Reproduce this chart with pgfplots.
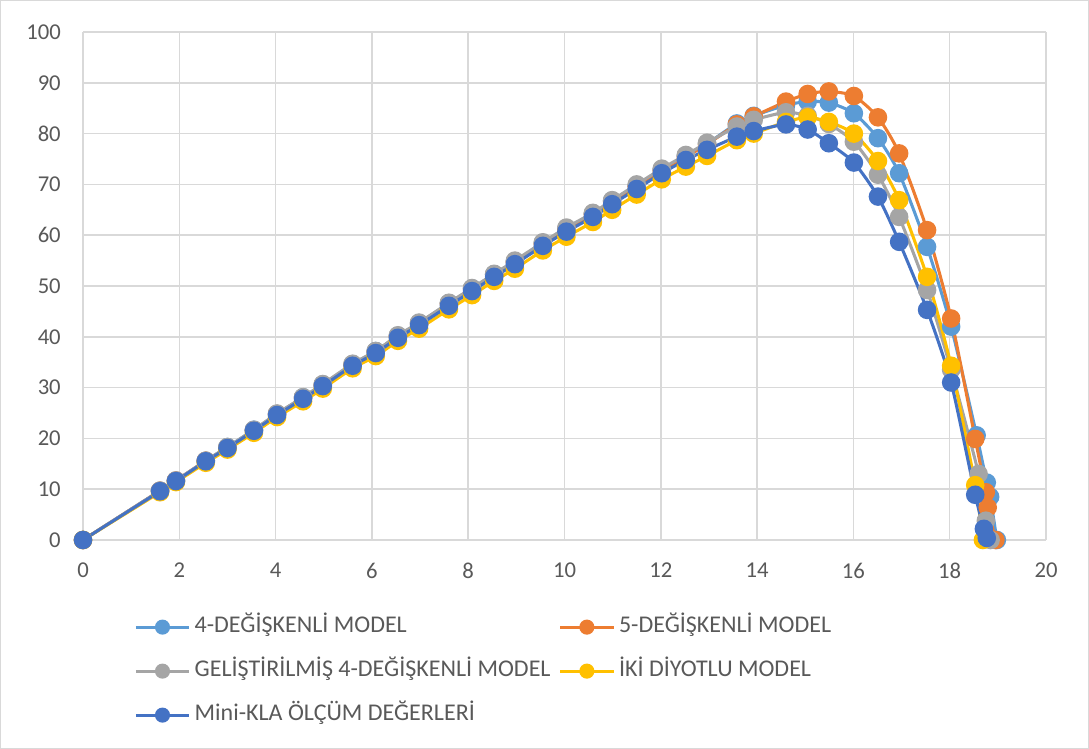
\documentclass[border=0pt]{standalone}
\usepackage{pgfplots}
\pgfplotsset{compat=1.18}
\usepackage{fontspec}
\setmainfont{Carlito}
\definecolor{cA}{HTML}{5B9BD5}
\definecolor{cB}{HTML}{ED7D31}
\definecolor{cC}{HTML}{A5A5A5}
\definecolor{cD}{HTML}{FFC000}
\definecolor{cE}{HTML}{4472C4}
\definecolor{gridgray}{HTML}{D9D9D9}
\definecolor{textgray}{HTML}{595959}
\begin{document}
\begin{tikzpicture}
\path[use as bounding box] (0,0) rectangle (816.75pt,561.75pt);
\draw[gridgray, line width=0.75pt] (0.4pt,0.4pt) rectangle (816.35pt,561.35pt);
\begin{axis}[
  at={(62.25pt,156.75pt)}, anchor=south west,
  width=722.25pt, height=381pt, scale only axis,
  xmin=0, xmax=20, ymin=0, ymax=100,
  xtick={0,2,...,20}, ytick={0,10,...,100},
  grid=major, grid style={draw=gridgray, line width=1.1pt},
  axis line style={draw=none}, tick style={draw=none},
  ticklabel style={font=\fontsize{17}{20}\selectfont, text=textgray, inner sep=0pt},
  /pgf/number format/assume math mode=true,
  yticklabel style={anchor=east, xshift=-16.5pt},
  xticklabel style={anchor=north, yshift=-17pt},
  every axis plot/.append style={line width=2.3pt, smooth, tension=0.4,
     mark=*, mark size=5.8pt, mark options={solid}},
  legend columns=2,
  legend cell align=left,
  legend style={at={(0.053,-0.150)}, anchor=north west, draw=none, fill=none,
     inner sep=0pt, row sep=17pt,
     font=\fontsize{18}{21}\selectfont, text=textgray,
     nodes={inner sep=0pt, text height=12pt, text depth=4pt},
     /tikz/every odd column/.append style={column sep=3pt},
     /tikz/every even column/.append style={column sep=6pt},
  },
  legend image code/.code={\draw[mark repeat=2, mark phase=2, mark size=4.5pt] plot coordinates {(0pt,0pt)(20pt,0pt)(40pt,0pt)};},
]
\addplot[color=cA] coordinates {
(0,0)(1.6,9.7)(1.93,11.7)(2.55,15.6)(3.0,18.3)(3.55,21.7)(4.03,24.8)(4.57,28.1)(4.98,30.6)(5.6,34.6)(6.08,37.2)(6.54,40.2)(6.98,42.7)(7.6,46.6)(8.08,49.5)(8.54,52.3)(8.97,54.8)(9.55,58.5)(10.04,61.3)(10.59,64.2)(10.99,66.8)(11.5,69.8)(12.02,72.9)(12.52,75.6)(12.96,78.0)(13.58,82.0)(13.93,83.5)(14.6,85.6)(15.05,86.3)(15.49,86.1)(16.01,84.0)(16.51,79.1)(16.95,72.2)(17.53,57.7)(18.03,42.0)(18.56,20.6)(18.77,11.3)(18.84,8.5)(18.98,0)};
\addlegendentry{4-DEĞİŞKENLİ MODEL}
\addplot[color=cB] coordinates {
(0,0)(1.6,9.7)(1.93,11.7)(2.55,15.6)(3.0,18.2)(3.55,21.6)(4.03,24.8)(4.57,28.0)(4.98,30.5)(5.6,34.5)(6.08,37.1)(6.54,40.1)(6.98,42.6)(7.6,46.5)(8.08,49.4)(8.54,52.2)(8.97,54.7)(9.55,58.3)(10.04,61.2)(10.59,64.1)(10.99,66.6)(11.5,69.6)(12.02,72.7)(12.52,75.4)(12.96,77.9)(13.58,81.8)(13.93,83.4)(14.6,86.3)(15.05,87.8)(15.49,88.3)(16.01,87.4)(16.51,83.2)(16.95,76.1)(17.53,61.0)(18.03,43.6)(18.53,19.9)(18.75,9.4)(18.79,6.4)(18.95,0)};
\addlegendentry{5-DEĞİŞKENLİ MODEL}
\addplot[color=cC] coordinates {
(0,0)(1.6,9.7)(1.93,11.7)(2.55,15.6)(3.0,18.3)(3.55,21.7)(4.03,24.9)(4.57,28.1)(4.98,30.7)(5.6,34.7)(6.08,37.2)(6.54,40.3)(6.98,42.8)(7.6,46.7)(8.08,49.6)(8.54,52.4)(8.97,55.0)(9.55,58.6)(10.04,61.5)(10.59,64.4)(10.99,66.9)(11.5,70.0)(12.02,73.1)(12.52,75.8)(12.96,78.2)(13.58,81.4)(13.93,82.7)(14.6,84.2)(15.05,83.5)(15.49,81.9)(16.01,78.4)(16.51,71.9)(16.95,63.6)(17.53,49.2)(18.03,33.5)(18.6,13.0)(18.75,3.8)(18.85,0)};
\addlegendentry{GELİŞTİRİLMİŞ 4-DEĞİŞKENLİ MODEL}
\addplot[color=cD] coordinates {
(0,0)(1.6,9.4)(1.93,11.4)(2.55,15.2)(3.0,17.8)(3.55,21.1)(4.03,24.2)(4.57,27.3)(4.98,29.8)(5.6,33.8)(6.08,36.2)(6.54,39.2)(6.98,41.6)(7.6,45.4)(8.08,48.2)(8.54,51.0)(8.97,53.4)(9.55,57.0)(10.04,59.7)(10.59,62.6)(10.99,65.0)(11.5,68.0)(12.02,71.0)(12.52,73.5)(12.96,75.6)(13.58,78.7)(13.93,80.0)(14.6,82.3)(15.05,83.2)(15.49,82.3)(16.01,80.0)(16.51,74.6)(16.95,66.9)(17.53,51.8)(18.03,34.3)(18.53,10.8)(18.69,0)};
\addlegendentry{İKİ DİYOTLU MODEL}
\addplot[color=cE] coordinates {
(0,0)(1.6,9.6)(1.93,11.6)(2.55,15.5)(3.0,18.1)(3.55,21.5)(4.03,24.6)(4.57,27.8)(4.98,30.3)(5.6,34.3)(6.08,36.8)(6.54,39.8)(6.98,42.3)(7.6,46.1)(8.08,49.0)(8.54,51.8)(8.97,54.3)(9.55,57.9)(10.04,60.7)(10.59,63.6)(10.99,66.1)(11.5,69.1)(12.02,72.2)(12.52,74.8)(12.96,76.8)(13.58,79.4)(13.93,80.5)(14.6,81.8)(15.05,80.8)(15.49,78.1)(16.01,74.3)(16.51,67.6)(16.95,58.7)(17.53,45.3)(18.03,31.0)(18.53,8.9)(18.71,2.2)(18.77,0.4)};
\addlegendentry{Mini-KLA ÖLÇÜM DEĞERLERİ}
\end{axis}
\end{tikzpicture}
\end{document}
